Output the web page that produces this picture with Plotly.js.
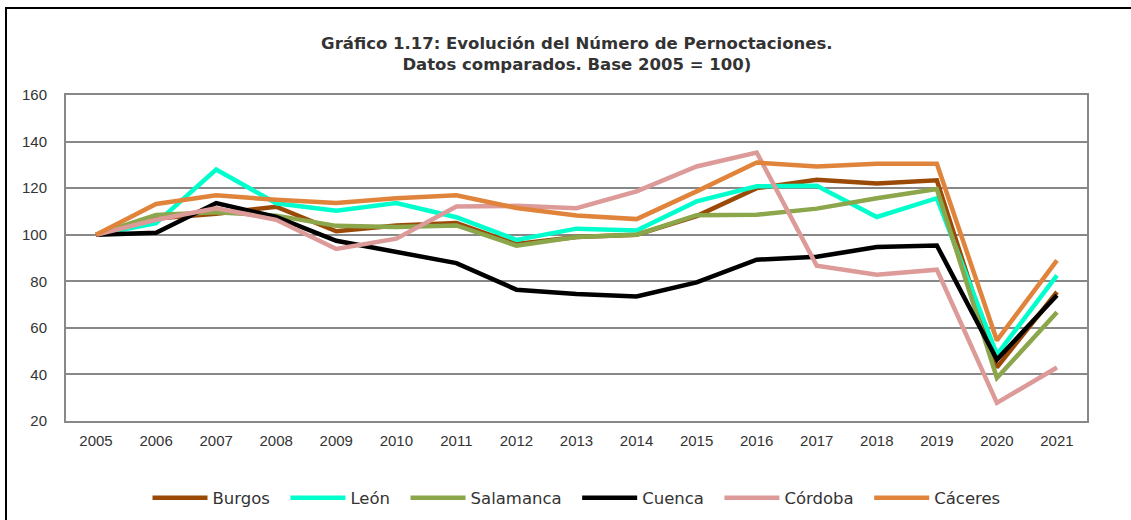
<!DOCTYPE html>
<html>
<head>
<meta charset="utf-8">
<script src="https://cdn.plot.ly/plotly-3.0.1.min.js"></script>
<style>
html,body{margin:0;padding:0;background:#fff;overflow:hidden;}
#chart{position:absolute;left:0;top:0;width:1131px;height:520px;}
#frame{position:absolute;left:5px;top:7px;width:1140px;height:540px;border:2px solid #000;pointer-events:none;}
</style>
</head>
<body>
<div id="chart"></div>
<div id="frame"></div>
<script>
const years = ['2005','2006','2007','2008','2009','2010','2011','2012','2013','2014','2015','2016','2017','2018','2019','2020','2021'];
const burgos    = [100,107,109,112,101.5,104,105,96,99,100,108,120,123.6,122,123.4,43,75.4];
const leon      = [100,105,128,113.5,110.3,113.6,107.5,97.8,102.6,101.8,114.3,120.8,121,107.6,115.7,48.5,82.5];
const salamanca = [100,108.5,109.6,108.2,103.8,103.3,104,95.3,99,100,108.4,108.6,111.2,115.7,119.6,38.5,66.7];
const cuenca    = [100,100.8,113.6,107.6,97.4,92.8,87.8,76.4,74.5,73.5,79.5,89.3,90.5,94.7,95.4,46.4,74];
const cordoba   = [100,106.4,111.4,106.4,93.9,98.3,112.1,112.4,111.4,118.6,129.3,135.3,86.7,82.8,85,27.8,43];
const caceres   = [100,113.2,116.9,115,113.6,115.7,116.9,111.5,108.3,106.7,118.6,131,129.3,130.5,130.5,54.6,89];
const seriesNames = ['Burgos','León','Salamanca','Cuenca','Córdoba','Cáceres'];
const seriesData = [burgos, leon, salamanca, cuenca, cordoba, caceres];
const seriesColors = ['#9A4A06','#00FFCC','#8BA64B','#000000','#DC9A98','#E0843C'];

const traces = seriesNames.map((n,i)=>({
  type:'scatter', mode:'lines',
  name: n + (i < seriesNames.length-1 ? '\u00A0\u00A0' : ''),
  x:years, y:seriesData[i],
  line:{color:seriesColors[i], width:4.5}
}));

const tickFont = {family:'Liberation Sans, Arial, sans-serif', size:15, color:'#333333'};

const layout = {
  width:1131, height:520,
  margin:{l:66, r:44, t:95, b:99, autoexpand:false},
  paper_bgcolor:'#fff', plot_bgcolor:'#fff',
  title:{text:'<b>Gráfico 1.17: Evolución del Número de Pernoctaciones.<br>Datos comparados. Base 2005 = 100)</b>',
    x:0.51, xanchor:'center', y:0.906, yanchor:'middle',
    font:{family:'DejaVu Sans, Verdana, sans-serif', size:16.5, color:'#333333'}},
  xaxis:{type:'category', range:[-0.5,16.5], showgrid:false, showline:true, mirror:true,
    linecolor:'#888888', linewidth:2, ticks:'', zeroline:false, ticklabelstandoff:5,
    tickfont:tickFont},
  yaxis:{range:[20,160], dtick:20, tick0:20, showgrid:true, gridcolor:'#888888', gridwidth:2,
    showline:true, mirror:true, linecolor:'#888888', linewidth:2, ticks:'', zeroline:false,
    ticklabelstandoff:14, tickfont:tickFont},
  showlegend:true,
  legend:{orientation:'h', x:0.5, xanchor:'center', y:-0.236, yanchor:'middle',
    itemwidth:55, tracegroupgap:0,
    font:{family:'DejaVu Sans, Verdana, sans-serif', size:16.5, color:'#333333'}}
};
Plotly.newPlot('chart', traces, layout, {displayModeBar:false, staticPlot:true});
</script>
</body>
</html>
